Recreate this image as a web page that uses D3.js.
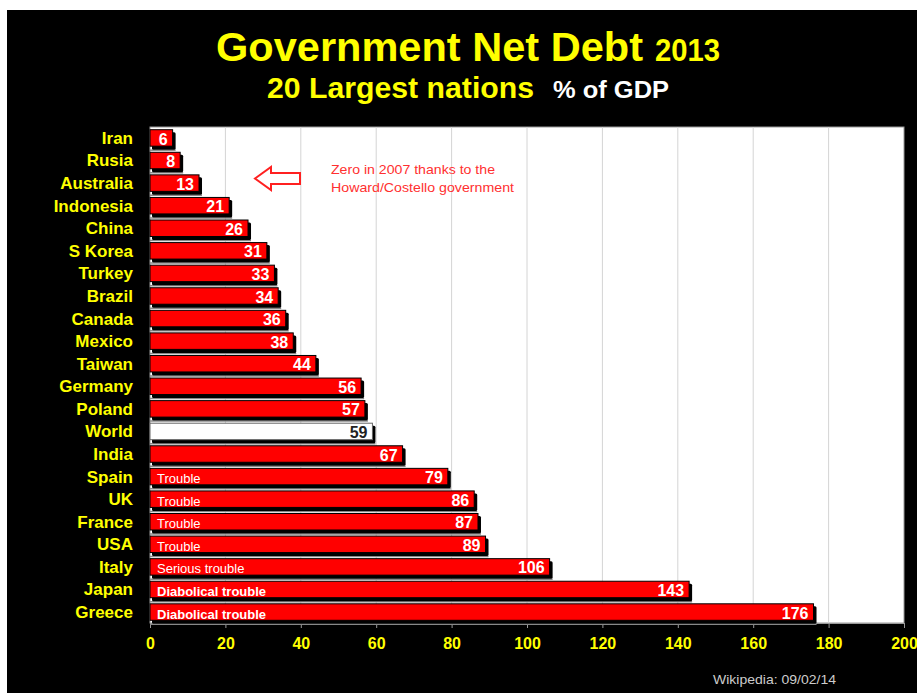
<!DOCTYPE html>
<html><head><meta charset="utf-8">
<script src="https://cdn.jsdelivr.net/npm/d3@7"></script>
<style>html,body{margin:0;padding:0;background:#fff;}svg{display:block;}</style>
</head><body>
<script>
const countries = ["Iran","Rusia","Australia","Indonesia","China","S Korea","Turkey","Brazil","Canada","Mexico","Taiwan","Germany","Poland","World","India","Spain","UK","France","USA","Italy","Japan","Greece"];
const debt = [6,8,13,21,26,31,33,34,36,38,44,56,57,59,67,79,86,87,89,106,143,176];
const notes = ["","","","","","","","","","","","","","","","Trouble","Trouble","Trouble","Trouble","Serious trouble","Diabolical trouble","Diabolical trouble"];
const xTicks = [0,20,40,60,80,100,120,140,160,180,200];

const W = 917, H = 693;
const FONT = "Liberation Sans, Arial, sans-serif";
const svg = d3.select("body").append("svg").attr("width", W).attr("height", H);
svg.append("rect").attr("x",7).attr("y",10).attr("width",W-7).attr("height",H-10).attr("fill","#000");

const x = d3.scaleLinear().domain([0,200]).range([150,904]);
const y = d3.scaleBand().domain(countries).range([127,623]).paddingInner(0.27).paddingOuter(0.12);

// plot area
svg.append("rect").attr("x",150).attr("y",127).attr("width",754).attr("height",496)
  .attr("fill","#fff").attr("stroke","#999").attr("stroke-width",1);
// grid
svg.append("g").selectAll("line").data(xTicks.slice(1,-1)).join("line")
  .attr("x1",d=>x(d)).attr("x2",d=>x(d)).attr("y1",127).attr("y2",623)
  .attr("stroke","#d4d4d4").attr("stroke-width",1);

// axis
const ax = svg.append("g").attr("transform","translate(0,623)")
  .call(d3.axisBottom(x).tickValues(xTicks).tickSize(5).tickPadding(10));
ax.select(".domain").attr("stroke","#999");
ax.selectAll(".tick line").attr("stroke","#999");
ax.selectAll(".tick text").attr("fill","#ffff00").attr("font-family",FONT)
  .attr("font-weight","bold").attr("font-size",16);

const data = countries.map((c,i)=>({c, v:debt[i], n:notes[i]}));
const bh = y.bandwidth();
const g = svg.append("g");
// floor lines
g.selectAll("line.floor").data(data).join("line").attr("class","floor")
  .attr("x1",150).attr("x2",d=>x(d.v)+3).attr("y1",d=>y(d.c)+bh+4).attr("y2",d=>y(d.c)+bh+4)
  .attr("stroke","#888").attr("stroke-width",1.5);
// shadows
g.selectAll("rect.sh").data(data).join("rect").attr("class","sh")
  .attr("x",152).attr("y",d=>y(d.c)+2.5).attr("width",d=>x(d.v)-150+1).attr("height",bh+1)
  .attr("fill","#000").attr("rx",1.5);
// bars
g.selectAll("rect.bar").data(data).join("rect").attr("class","bar")
  .attr("x",150).attr("y",d=>y(d.c)).attr("width",d=>x(d.v)-150).attr("height",bh)
  .attr("fill",d=>d.c==="World"?"#fff":"#ff0000").attr("stroke",d=>d.c==="World"?"#666":"#000").attr("stroke-width",1);
// value labels
g.selectAll("text.val").data(data).join("text").attr("class","val")
  .attr("x",d=>x(d.v)-5).attr("y",d=>y(d.c)+bh/2+1).attr("dy","0.35em")
  .attr("text-anchor","end").attr("font-family",FONT)
  .attr("font-weight","bold").attr("font-size",16)
  .attr("fill",d=>d.c==="World"?"#222":"#fff").text(d=>d.v);
// notes
g.selectAll("text.note").data(data.filter(d=>d.n)).join("text").attr("class","note")
  .attr("x",157).attr("y",d=>y(d.c)+bh/2+2).attr("dy","0.35em")
  .attr("font-family",FONT).attr("font-size",13)
  .attr("font-weight",d=>d.n.startsWith("Diabolical")?"bold":"normal")
  .attr("fill","#fff").text(d=>d.n);
// category labels
svg.append("g").selectAll("text").data(countries).join("text")
  .attr("x",133).attr("y",d=>y(d)+bh/2).attr("dy","0.35em").attr("text-anchor","end")
  .attr("font-family",FONT).attr("font-weight","bold").attr("font-size",17)
  .attr("fill","#ffff00").text(d=>d);

// titles
function ttl(txt, x0, x1, yb, fs, col){
  svg.append("text").attr("x",x0).attr("y",yb).attr("font-family",FONT).attr("font-weight","bold")
    .attr("font-size",fs).attr("fill",col).attr("textLength",x1-x0).attr("lengthAdjust","spacingAndGlyphs").text(txt);
}
ttl("Government Net Debt", 216, 643, 61, 40, "#ffff00");
ttl("2013", 655, 720, 61, 32, "#ffff00");
ttl("20 Largest nations", 267, 534, 98, 29, "#ffff00");
ttl("% of GDP", 553, 669, 98, 23, "#ffffff");

// annotation arrow
svg.append("path").attr("d","M255,178.5 L271,167 L271,173 L300,173 L300,184 L271,184 L271,190 Z")
  .attr("fill","#fff").attr("stroke","#ff2020").attr("stroke-width",2);
const ann = svg.append("text").attr("font-family",FONT).attr("font-size",13.5).attr("fill","#ff3030");
ann.append("tspan").attr("x",331).attr("y",174).attr("textLength",164).attr("lengthAdjust","spacingAndGlyphs").text("Zero in 2007 thanks to the");
ann.append("tspan").attr("x",331).attr("y",192).attr("textLength",183).attr("lengthAdjust","spacingAndGlyphs").text("Howard/Costello government");

svg.append("text").attr("x",713).attr("y",684).attr("font-family",FONT)
  .attr("font-size",13.5).attr("fill","#cccccc").attr("textLength",123).attr("lengthAdjust","spacingAndGlyphs").text("Wikipedia: 09/02/14");
</script>
</body></html>
